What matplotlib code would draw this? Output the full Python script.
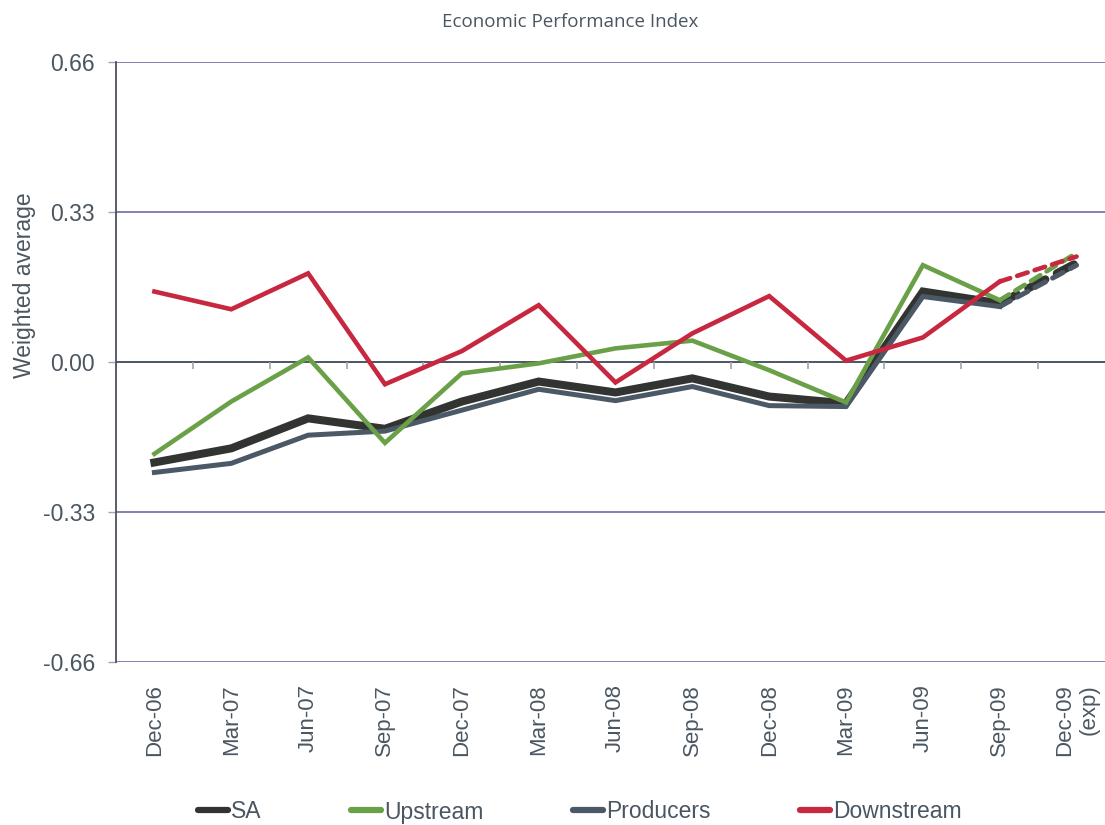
import matplotlib
matplotlib.use("Agg")
import matplotlib.pyplot as plt
from matplotlib.lines import Line2D
import numpy as np

categories = ["Dec-06", "Mar-07", "Jun-07", "Sep-07", "Dec-07", "Mar-08", "Jun-08",
              "Sep-08", "Dec-08", "Mar-09", "Jun-09", "Sep-09", "Dec-09\n(exp)"]
sa = [-0.221, -0.190, -0.124, -0.147, -0.087, -0.043, -0.067, -0.036, -0.076, -0.091, 0.155, 0.129, 0.218]
upstream = [-0.202, -0.087, 0.010, -0.178, -0.025, -0.003, 0.030, 0.047, -0.018, -0.089, 0.213, 0.136, 0.240]
producers = [-0.243, -0.223, -0.161, -0.152, -0.106, -0.060, -0.085, -0.054, -0.096, -0.098, 0.144, 0.122, 0.213]
downstream = [0.155, 0.116, 0.195, -0.049, 0.024, 0.125, -0.045, 0.063, 0.145, 0.003, 0.054, 0.177, 0.232]
yticks = [-0.66, -0.33, 0.00, 0.33, 0.66]

TXT = "#4a5661"
fig = plt.figure(figsize=(11.05, 8.25), dpi=100)
ax = fig.add_axes([116/1105, 1-662/825, 999/1105, 600/825])

x = np.arange(len(categories))
series = [
    ("SA", sa, "#323432", 5.8, 2),
    ("Producers", producers, "#4b5866", 3.6, 3),
    ("Upstream", upstream, "#6aa048", 3.3, 4),
    ("Downstream", downstream, "#c8283f", 3.3, 5),
]
handles = {}
for name, vals, col, lw, z in series:
    ax.plot(x[:12], vals[:12], color=col, lw=lw, zorder=z, solid_joinstyle="miter")
    ax.plot(x[11:], vals[11:], color=col, lw=lw, zorder=z,
            linestyle=(0, (2.4, 1.6)), dash_capstyle="round")
    handles[name] = Line2D([], [], color=col, lw=4.5, solid_capstyle="round")

ax.set_xlim(-0.5, len(categories) - 0.5)
ax.set_ylim(-0.66, 0.66)
ax.set_yticks(yticks)
ax.set_yticklabels([f"{v:.2f}" for v in yticks], fontsize=16.5, color=TXT,
                   family="Liberation Sans")
ax.set_xticks(x)
ax.set_xticklabels(categories, rotation=90, fontsize=16, color=TXT,
                   family="Liberation Sans", multialignment="right")
ax.tick_params(axis="x", length=0, pad=16)
ax.tick_params(axis="y", length=6, width=1, color="#a0a4ac", pad=9)

for v in yticks:
    if v != 0:
        ax.axhline(v, color="#7676ac", lw=1.3, zorder=1)
ax.axhline(0, color="#4a5664", lw=1.4, zorder=1)
ax.vlines(np.arange(0.5, len(categories) - 1, 1), -0.016, 0, color="#a0a4ac", lw=1.2, zorder=1)

for s in ["top", "right", "bottom"]:
    ax.spines[s].set_visible(False)
ax.spines["left"].set_color("#4a5060")
ax.spines["left"].set_linewidth(1.3)

ax.set_ylabel("Weighted average", fontsize=16.5, color=TXT, family="Liberation Sans")
ax.yaxis.set_label_coords(-0.080, 0.628)

fig.text(570/1105, 1-22/825, "Economic Performance Index", ha="center", va="center",
         fontsize=13.5, color=TXT, family="Open Sans")

order = ["SA", "Upstream", "Producers", "Downstream"]
leg = fig.legend([handles[k] for k in order], order, loc="center", ncol=4,
                 bbox_to_anchor=(580/1105, 1-812/825), frameon=False,
                 handlelength=1.3, handletextpad=0.15, columnspacing=3.9,
                 prop={"family": "Liberation Sans", "size": 16.5})
for t in leg.get_texts():
    t.set_color(TXT)

fig.savefig("out.png", dpi=100)
